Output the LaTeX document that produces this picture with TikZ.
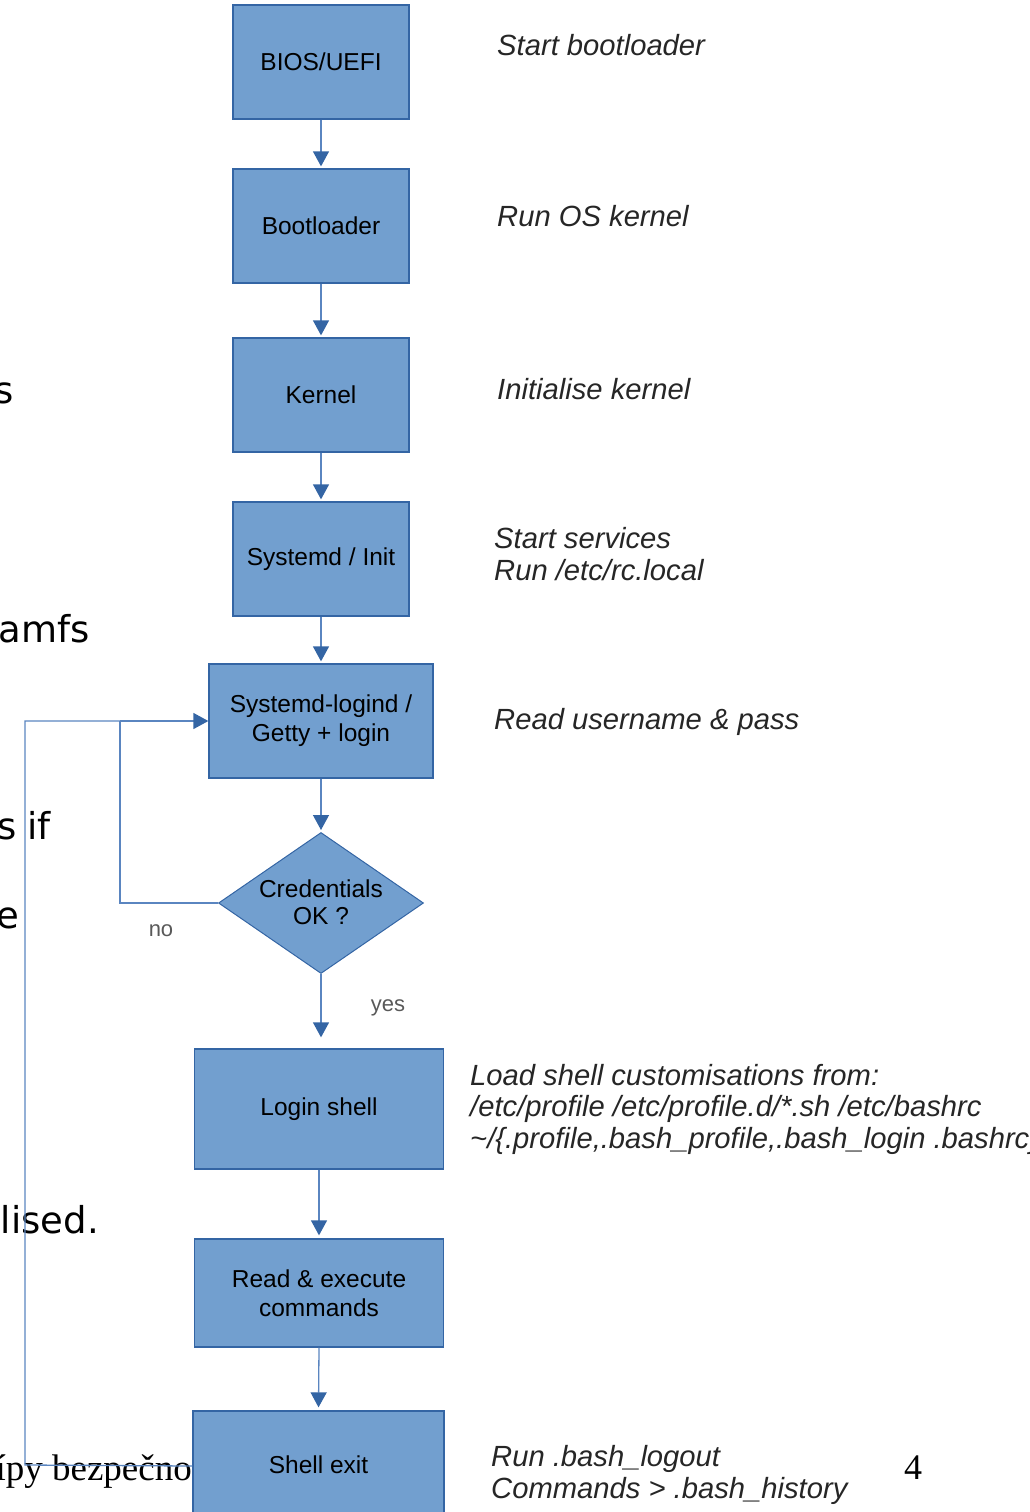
\documentclass[tikz,border=0pt]{standalone}
\usepackage{fontspec}
\setmainfont{Liberation Sans}
\newfontfamily\fragfont{DejaVu Sans}
\newfontfamily\seriffrag{Liberation Serif}
\usetikzlibrary{arrows.meta,shapes.geometric}
\definecolor{boxfill}{HTML}{729FCF}
\definecolor{boxline}{HTML}{3465A4}
\definecolor{connline}{HTML}{5A85C0}
\begin{document}
\begin{tikzpicture}[x=1pt,y=-1pt,
  stepbox/.style={draw=boxline,fill=boxfill,line width=1.3pt,inner sep=0pt,
    align=center,font=\fontsize{24.5}{29}\selectfont},
  decision/.style={diamond,draw=boxline,fill=boxfill,line width=1pt,inner sep=0pt,
    minimum width=205pt,minimum height=141pt},
  conn/.style={draw=connline,line width=1.3pt},
  flow/.style={conn,-{Triangle[width=16pt,length=15pt,fill=boxline,color=boxline]}},
  note/.style={anchor=west,inner sep=0pt,align=left,
    font=\fontsize{29.2}{31.5}\selectfont\itshape,text=black!85},
  branch/.style={inner sep=0pt,font=\fontsize{22}{24}\selectfont,text=black!65},
  frag/.style={anchor=base east,inner sep=0pt,font=\fragfont\fontsize{37}{40}\selectfont},
]
\useasboundingbox (0,0) rectangle (1030,1512);
\clip (0,0) rectangle (1030,1512);

% stray fragments of the underlying page
\node[frag] (f1) at (14,403) {s};
\node[frag] (f2) at (90,642) {amfs};
\node[frag] (f3) at (17,839) {s};
\node[frag] (f3b) at (51,839) {if};
\node[frag] (f4) at (19,928) {e};
\node[frag] (f5) at (99,1233) {lised.};
\node[anchor=base east,inner sep=0pt,font=\seriffrag\fontsize{37}{40}\selectfont] (f6) at (192,1480) {ípy bezpečno};
\node[anchor=base,inner sep=0pt,font=\seriffrag\fontsize{36}{40}\selectfont] (f7) at (913,1479) {4};

% nodes
\node[stepbox,minimum width=176pt,minimum height=114pt] (bios) at (321,62) {BIOS/UEFI};
\node[stepbox,minimum width=176pt,minimum height=114pt] (boot) at (321,226) {Bootloader};
\node[stepbox,minimum width=176pt,minimum height=114pt] (kern) at (321,395) {Kernel};
\node[stepbox,minimum width=176pt,minimum height=114pt] (init) at (321,559) {Systemd / Init};
\node[stepbox,minimum width=224pt,minimum height=114pt] (logind) at (321,721) {Systemd-logind /\\Getty + login};
\node[decision] (cred) at (321,903) {};
\node[inner sep=0pt,align=center,font=\fontsize{24.5}{27}\selectfont] (credt) at (321,902) {Credentials\\OK ?};
\node[stepbox,minimum width=249pt,minimum height=120pt] (lsh) at (319,1109) {Login shell};
\node[stepbox,minimum width=249pt,minimum height=108pt] (rex) at (319,1293) {Read \& execute\\commands};
\node[stepbox,minimum width=251pt,minimum height=110pt] (sexit) at (318.5,1466) {};
\node[inner sep=0pt,font=\fontsize{24.5}{29}\selectfont] (sexitt) at (318.5,1465) {Shell exit};

% connectors
\draw[flow] (bios.south) -- ([yshift=2pt]boot.north);
\draw[flow] (boot.south) -- ([yshift=2pt]kern.north);
\draw[flow] (kern.south) -- ([yshift=2pt]init.north);
\draw[flow] (init.south) -- ([yshift=2pt]logind.north);
\draw[flow] (logind.south) -- ([yshift=2pt]cred.north);
\draw[flow] (cred.south) -- ([yshift=11pt]lsh.north -| cred.south);
\draw[flow] (lsh.south) -- ([yshift=3pt]rex.north);
\draw[flow] (rex.south) -- ([yshift=3pt]sexit.north);
\coordinate (loopA) at (25,1465);
\coordinate (loopB) at (25,721);
\coordinate (noA) at (120,903);
\coordinate (noB) at (120,721);
\draw[conn] (sexit.west) -- (loopA) -- (loopB) -- (noB);
\draw[flow] (noB) -- (logind.west);
\draw[conn] (cred.west) -- (noA) -- (noB);

\node[branch] (no) at (161,931) {no};
\node[branch] (yes) at (388,1008) {yes};

% notes
\node[note] (n1) at (497,45) {Start bootloader};
\node[note] (n2) at (497,216) {Run OS kernel};
\node[note] (n3) at (497,389) {Initialise kernel};
\node[note] (n4) at (494,554) {Start services\\Run /etc/rc.local};
\node[note] (n5) at (494,722) {Read username \& pass};
\node[note] (n6) at (470,1109) {Load shell customisations from:\\/etc/profile /etc/profile.d/*.sh /etc/bashrc\\\textasciitilde/\{.profile,.bash\_profile,.bash\_login .bashrc\}};
\node[note] (n7) at (491,1475) {Run .bash\_logout\\Commands > .bash\_history};
\end{tikzpicture}
\end{document}
